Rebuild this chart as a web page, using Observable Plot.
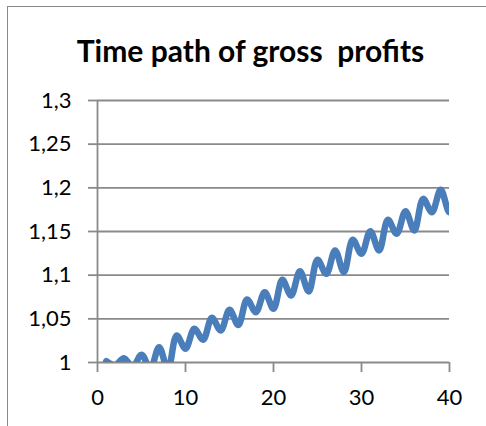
<!DOCTYPE html>
<html>
<head>
<meta charset="utf-8">
<script src="https://cdn.jsdelivr.net/npm/d3@7"></script>
<script src="https://cdn.jsdelivr.net/npm/@observablehq/plot@0.6"></script>
<style>
  html, body { margin: 0; padding: 0; background: #fff; }
  #wrap { position: relative; width: 486px; height: 426px; overflow: hidden; }
  #frame { position: absolute; left: 7px; top: 6px; width: 600px; height: 600px;
           border-left: 1.5px solid #8a8a8a; border-top: 1.5px solid #8a8a8a; }
  #title { position: absolute; left: 0; top: 32px; width: 501px; text-align: center;
           font-family: Lato, "Open Sans", sans-serif; font-weight: bold; font-size: 30px;
           line-height: 36px; color: #000; white-space: pre; }
  #chart { position: absolute; left: 0; top: 0; }
</style>
</head>
<body>
<div id="wrap">
  <div id="frame"></div>
  <div id="chart"></div>
  <div id="title">Time path of gross  profits</div>
</div>
<script>
const titleText = "Time path of gross  profits";
const periods = [1,2,3,4,5,6,7,8,9,10,11,12,13,14,15,16,17,18,19,20,21,22,23,24,25,26,27,28,29,30,31,32,33,34,35,36,37,38,39,40,41];
const profits = [1.0015,0.997,1.005,0.995,1.009,0.993,1.0175,0.992,1.031,1.0157,
                 1.0386,1.026,1.0512,1.0366,1.0603,1.043,1.0721,1.0576,1.0805,1.0615,
                 1.0947,1.0767,1.1045,1.0813,1.1176,1.1015,1.1283,1.1034,1.1405,1.1245,
                 1.1504,1.1283,1.1634,1.1474,1.1733,1.1511,1.1874,1.1721,1.1977,1.1721,1.205];
const yTicks = [1, 1.05, 1.1, 1.15, 1.2, 1.25, 1.3];
const xTicks = [0, 10, 20, 30, 40];

document.getElementById("title").textContent = titleText;
const data = periods.map((t, i) => ({t, v: profits[i]}));
const fmt = d => String(+d.toFixed(2)).replace(".", ",");
const gray = "#8a8a8a";

const chart = Plot.plot({
  width: 486,
  height: 426,
  marginLeft: 97,
  marginRight: 37,
  marginTop: 100,
  marginBottom: 64,
  style: {fontFamily: "Lato, 'Open Sans', sans-serif", background: "transparent", color: "#000"},
  x: {domain: [0, 40]},
  y: {domain: [1, 1.3]},
  marks: [
    Plot.ruleY(yTicks, {stroke: gray, strokeWidth: 1.8}),
    Plot.ruleX([0], {stroke: gray, strokeWidth: 1.8}),
    Plot.axisY({ticks: yTicks, tickFormat: fmt, tickSize: 9, tickPadding: 17, stroke: gray, strokeWidth: 1.8, strokeOpacity: 1, fontSize: 22, fill: "#000", label: null}),
    Plot.axisX({ticks: xTicks, tickFormat: d => String(d), tickSize: 10, tickPadding: 17, stroke: gray, strokeWidth: 1.8, strokeOpacity: 1, fontSize: 22, fill: "#000", label: null}),
    Plot.line(data, {x: "t", y: "v", curve: "catmull-rom", stroke: "#4a7ebb", strokeWidth: 6.5, clip: true})
  ]
});
document.getElementById("chart").appendChild(chart);
</script>
</body>
</html>
